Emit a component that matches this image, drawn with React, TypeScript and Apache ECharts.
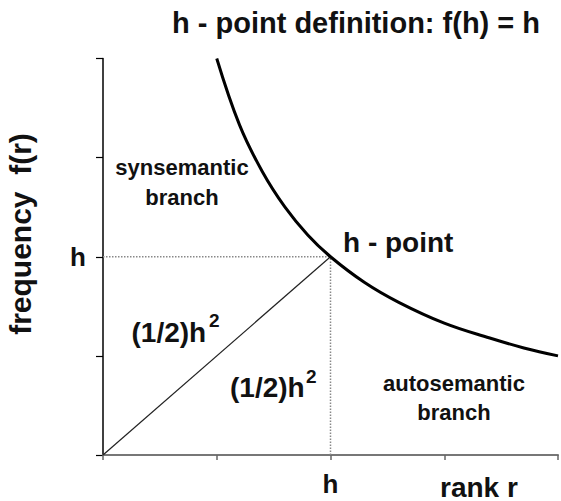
import React, { useEffect, useRef } from "react";
import * as echarts from "echarts";

// Hyperbola f(r) (rank, frequency), h = 2
const curveRank = [1, 1.2, 1.4, 1.6, 1.8, 2, 2.3, 2.6, 3, 3.4, 3.7, 4];
const curveFreq = [4, 3.33, 2.86, 2.5, 2.22, 2, 1.74, 1.54, 1.33, 1.18, 1.08, 1];

// Diagonal from origin to h-point
const diagRank = [0, 2];
const diagFreq = [0, 2];

// Dotted guide lines to the h-point
const hGuideHRank = [0, 2];
const hGuideHFreq = [2, 2];
const hGuideVRank = [2, 2];
const hGuideVFreq = [0, 2];

// Tick labels (index = axis value)
const xTickLabels = ["", "", "h", "", ""];
const yTickLabels = ["", "", "h", "", ""];

const titleText = "h - point definition: f(h) = h";
const xName = "rank r";
const yName = "frequency  f(r)";

const FONT = "'Liberation Sans', Arial, Helvetica, sans-serif";

const zip = (a: number[], b: number[]) => a.map((v, i) => [v, b[i]]);

const txt = (
  text: string,
  x: number,
  y: number,
  size: number,
  align: string,
  extra: any = {},
  styleExtra: any = {}
) => ({
  type: "text",
  x,
  y,
  ...extra,
  style: {
    text,
    fontFamily: FONT,
    fontSize: size,
    fontWeight: "bold",
    fill: "#111",
    align,
    verticalAlign: "middle",
    textAlign: align,
    textVerticalAlign: "middle",
    ...styleExtra,
  },
});

export default function App() {
  const ref = useRef<HTMLDivElement>(null);

  useEffect(() => {
    if (!ref.current) return;
    const chart = echarts.init(ref.current, undefined, { renderer: "svg" });
    chart.setOption({
      animation: false,
      backgroundColor: "#fff",
      grid: { left: 103, top: 58.5, width: 459, height: 396.5 },
      xAxis: {
        type: "value",
        min: 0,
        max: 4,
        interval: 1,
        axisLine: { lineStyle: { color: "#777", width: 2 } },
        axisTick: { length: 5, lineStyle: { color: "#666", width: 1.5 } },
        axisLabel: {
          formatter: (v: number) => xTickLabels[v] ?? "",
          margin: 29,
          verticalAlign: "middle",
          fontFamily: FONT,
          fontSize: 26,
          fontWeight: "bold",
          color: "#111",
          showMaxLabel: true,
          showMinLabel: true,
        },
        splitLine: { show: false },
      },
      yAxis: {
        type: "value",
        min: 0,
        max: 4,
        interval: 1,
        axisLine: { show: true, lineStyle: { color: "#000", width: 1.5 } },
        axisTick: { show: true, length: 7, lineStyle: { color: "#000", width: 1.2 } },
        axisLabel: {
          formatter: (v: number) => yTickLabels[v] ?? "",
          margin: 17,
          fontFamily: FONT,
          fontSize: 26,
          fontWeight: "bold",
          color: "#111",
        },
        splitLine: { show: false },
      },
      series: [
        {
          type: "line",
          data: zip(hGuideHRank, hGuideHFreq),
          symbol: "none",
          lineStyle: { color: "#888", width: 1.5, type: "dotted" },
        },
        {
          type: "line",
          data: zip(hGuideVRank, hGuideVFreq),
          symbol: "none",
          lineStyle: { color: "#888", width: 1.5, type: "dotted" },
        },
        {
          type: "line",
          data: zip(diagRank, diagFreq),
          symbol: "none",
          lineStyle: { color: "#222", width: 1.2 },
        },
        {
          type: "line",
          data: zip(curveRank, curveFreq),
          symbol: "none",
          smooth: 0.4,
          lineStyle: { color: "#000", width: 3 },
        },
      ],
      graphic: [
        txt(titleText, 356, 23, 29, "center"),
        txt(yName, 20, 234, 30, "center", { rotation: Math.PI / 2 }),
        txt(xName, 440, 487, 28, "left"),
        txt("synsemantic\nbranch", 182, 182.4, 22, "center", {}, { lineHeight: 30 }),
        txt("autosemantic\nbranch", 454, 398, 22, "center", {}, { lineHeight: 29 }),
        txt("h - point", 343, 242, 28, "left"),
        txt("(1/2)h", 131.5, 332, 28, "left"),
        txt("2", 209, 320, 19, "left"),
        txt("(1/2)h", 230, 387, 28, "left"),
        txt("2", 306, 376, 19, "left"),
      ],
    });
    return () => chart.dispose();
  }, []);

  return (
    <div
      ref={ref}
      style={{ position: "fixed", left: 0, top: 0, width: 561, height: 501 }}
    />
  );
}
